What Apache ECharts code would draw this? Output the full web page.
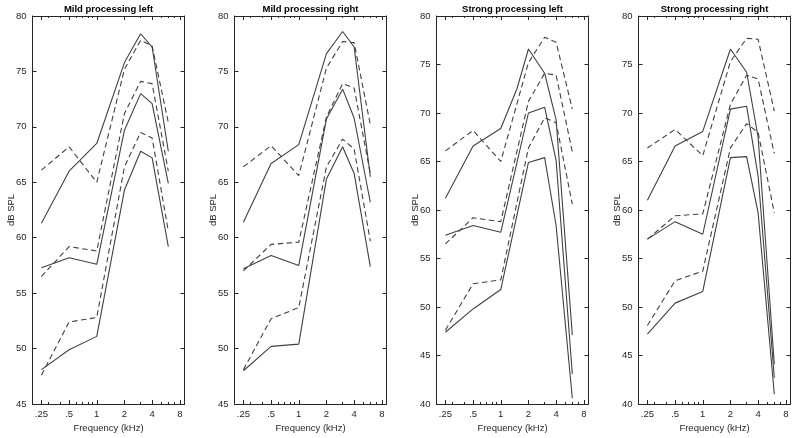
<!DOCTYPE html>
<html><head><meta charset="utf-8">
<script src="https://cdn.jsdelivr.net/npm/echarts@6/dist/echarts.min.js"></script>
<style>html,body{margin:0;padding:0;background:#fff}#c{width:800px;height:438px}</style>
</head><body><div id="c"></div>
<script>
// ---- data ----
const freqs = [0.25, 0.5, 1, 2, 3, 4, 6];
const freqsWith1500 = [0.25, 0.5, 1, 1.5, 2, 3, 4, 6];
const xTickFreqs = [0.25, 0.5, 1, 2, 4, 8];
const xTickLabels = ['.25', '.5', '1', '2', '4', '8'];
const xMinorFreqs = [0.3, 0.4, 0.6, 0.7, 0.8, 0.9, 3, 5, 6, 7];
const panelTitles = ['Mild processing left', 'Mild processing right', 'Strong processing left', 'Strong processing right'];
const yMins = [45, 45, 40, 40];
const yMax = 80;

// dashed (same reference curves in left panels / right panels)
const leftDashedHigh  = [66.1, 68.2, 65.0, 75.2, 77.8, 77.3, 70.4];
const leftDashedMid   = [56.5, 59.2, 58.8, 71.2, 74.1, 73.9, 66.0];
const leftDashedLow   = [47.6, 52.4, 52.8, 66.4, 69.5, 69.0, 60.6];
const rightDashedHigh = [66.4, 68.3, 65.6, 75.3, 77.7, 77.6, 70.2];
const rightDashedMid  = [57.0, 59.4, 59.6, 70.9, 73.9, 73.5, 65.8];
const rightDashedLow  = [48.1, 52.7, 53.7, 66.4, 68.9, 68.0, 59.7];

// solid curves
const mildLeftHigh  = [61.3, 66.0, 68.5, 75.8, 78.4, 77.2, 67.8];
const mildLeftMid   = [57.3, 58.2, 57.6, 69.7, 73.0, 72.1, 64.9];
const mildLeftLow   = [48.1, 49.9, 51.1, 64.3, 67.8, 67.2, 59.2];
const mildRightHigh = [61.4, 66.7, 68.4, 76.6, 78.6, 77.2, 65.5];
const mildRightMid  = [57.2, 58.4, 57.5, 70.7, 73.4, 70.8, 63.2];
const mildRightLow  = [48.0, 50.2, 50.4, 65.3, 68.2, 65.8, 57.4];
const strongLeftHigh  = [61.2, 66.6, 68.4, 72.5, 76.6, 74.1, 69.3, 47.1]; // uses freqsWith1500
const strongLeftMid   = [57.4, 58.4, 57.7, 70.0, 70.6, 65.1, 43.1];
const strongLeftLow   = [47.4, 49.8, 51.8, 64.9, 65.4, 58.4, 40.6];
const strongRightHigh = [61.0, 66.6, 68.1, 76.6, 74.2, 67.5, 44.1];
const strongRightMid  = [57.0, 58.8, 57.5, 70.4, 70.7, 63.5, 42.7];
const strongRightLow  = [47.2, 50.4, 51.6, 65.4, 65.5, 59.7, 41.0];

const panels = [
  { solid: [[freqs, mildLeftHigh], [freqs, mildLeftMid], [freqs, mildLeftLow]],
    dashed: [leftDashedHigh, leftDashedMid, leftDashedLow] },
  { solid: [[freqs, mildRightHigh], [freqs, mildRightMid], [freqs, mildRightLow]],
    dashed: [rightDashedHigh, rightDashedMid, rightDashedLow] },
  { solid: [[freqsWith1500, strongLeftHigh], [freqs, strongLeftMid], [freqs, strongLeftLow]],
    dashed: [leftDashedHigh, leftDashedMid, leftDashedLow] },
  { solid: [[freqs, strongRightHigh], [freqs, strongRightMid], [freqs, strongRightLow]],
    dashed: [rightDashedHigh, rightDashedMid, rightDashedLow] }
];

// ---- layout / style ----
const FONT = 'Liberation Sans, Arial, sans-serif';
const AX = '#262626';
const LINE = '#404040';
const gridLeft = [32.5, 234.5, 436.5, 638.5];
const gridW = 152, gridTop = 16, gridH = 388;

const fmtX = v => {
  for (let i = 0; i < xTickFreqs.length; i++) {
    if (Math.abs(Math.log2(xTickFreqs[i]) - Math.log2(v)) < 0.01) return xTickLabels[i];
  }
  return '';
};

const grid = [], xAxis = [], yAxis = [], series = [], title = [];
panels.forEach((p, i) => {
  grid.push({ left: gridLeft[i], top: gridTop, width: gridW, height: gridH, containLabel: false, outerBoundsMode: 'none' });
  title.push({ text: panelTitles[i], left: gridLeft[i] + gridW / 2, top: 4.5, padding: 0, textAlign: 'center',
    textStyle: { fontSize: 9.5, fontWeight: 'bold', color: '#000', fontFamily: FONT } });
  const baseX = { type: 'log', logBase: 2, gridIndex: i, min: 0.2, max: 9, splitLine: { show: false },
    minorTick: { show: false }, minorSplitLine: { show: false } };
  // bottom major
  xAxis.push(Object.assign({}, baseX, { position: 'bottom',
    axisLine: { show: true, lineStyle: { color: AX, width: 1 } },
    axisTick: { show: true, inside: true, length: 4, customValues: xTickFreqs, lineStyle: { color: AX, width: 1 } },
    axisLabel: { show: true, customValues: xTickFreqs, formatter: fmtX, margin: 5, fontSize: 9.5, color: AX, fontFamily: FONT },
    name: 'Frequency (kHz)', nameLocation: 'middle', nameGap: 19, nameMoveOverlap: false,
    nameTextStyle: { fontSize: 9.5, color: AX, fontFamily: FONT } }));
  // bottom minor
  xAxis.push(Object.assign({}, baseX, { position: 'bottom', offset: 0,
    axisLine: { show: false },
    axisTick: { show: true, inside: true, length: 2, customValues: xMinorFreqs, lineStyle: { color: AX, width: 1 } },
    axisLabel: { show: false } }));
  // top major
  xAxis.push(Object.assign({}, baseX, { position: 'top',
    axisLine: { show: true, lineStyle: { color: AX, width: 1 } },
    axisTick: { show: true, inside: true, length: 4, customValues: xTickFreqs, lineStyle: { color: AX, width: 1 } },
    axisLabel: { show: false } }));
  // top minor
  xAxis.push(Object.assign({}, baseX, { position: 'top', offset: 0,
    axisLine: { show: false },
    axisTick: { show: true, inside: true, length: 2, customValues: xMinorFreqs, lineStyle: { color: AX, width: 1 } },
    axisLabel: { show: false } }));

  const baseY = { type: 'value', gridIndex: i, min: yMins[i], max: yMax, interval: 5, splitLine: { show: false } };
  yAxis.push(Object.assign({}, baseY, { position: 'left',
    axisLine: { show: true, lineStyle: { color: AX, width: 1 } },
    axisTick: { show: true, inside: true, length: 4, lineStyle: { color: AX, width: 1 } },
    axisLabel: { show: true, margin: 6, fontSize: 9.5, color: AX, fontFamily: FONT },
    name: 'dB SPL', nameLocation: 'middle', nameGap: 16, nameRotate: 90, nameMoveOverlap: false,
    nameTextStyle: { fontSize: 9.5, color: AX, fontFamily: FONT } }));
  yAxis.push(Object.assign({}, baseY, { position: 'right',
    axisLine: { show: true, lineStyle: { color: AX, width: 1 } },
    axisTick: { show: true, inside: true, length: 4, lineStyle: { color: AX, width: 1 } },
    axisLabel: { show: false } }));

  const mk = (fr, vals, dashed) => ({
    type: 'line', xAxisIndex: i * 4, yAxisIndex: i * 2, symbol: 'none', silent: true,
    data: fr.map((f, k) => [f, vals[k]]),
    lineStyle: { color: LINE, width: 1.1, type: dashed ? [5.5, 3.5] : 'solid' }
  });
  p.solid.forEach(s => series.push(mk(s[0], s[1], false)));
  p.dashed.forEach(d => series.push(mk(freqs, d, true)));
});

const chart = echarts.init(document.getElementById('c'), null, { renderer: 'canvas' });
chart.setOption({ animation: false, backgroundColor: '#fff', title, grid, xAxis, yAxis, series });
</script></body></html>
